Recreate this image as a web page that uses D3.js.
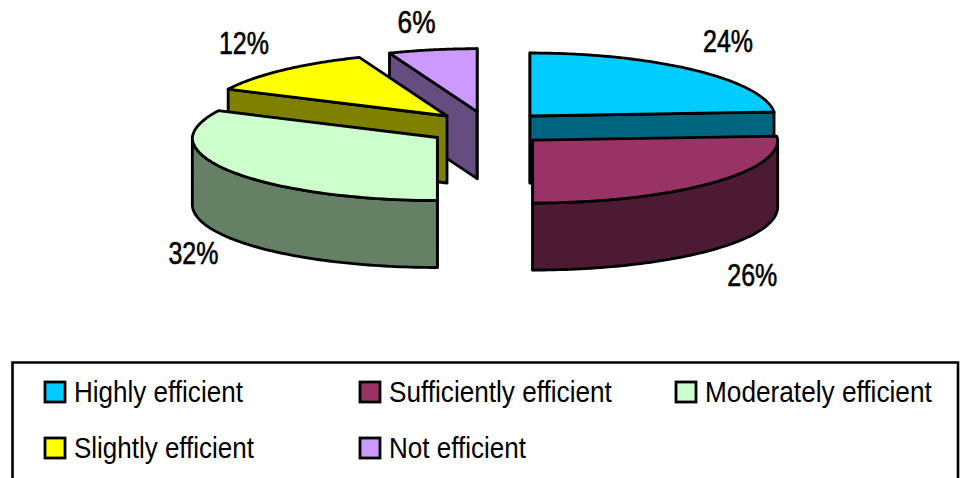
<!DOCTYPE html>
<html>
<head>
<meta charset="utf-8">
<style>
  html, body { margin: 0; padding: 0; background: #fff; }
  svg { display: block; }
  text { fill: #000; font-family: "Liberation Sans", Arial, sans-serif; }
</style>
<script src="https://cdn.jsdelivr.net/npm/d3@7/dist/d3.min.js"></script>
</head>
<body>
<svg id="chart" width="960" height="478"></svg>
<script>
// Survey shares, in percent, clockwise from twelve o'clock.
const categories = ["Highly efficient", "Sufficiently efficient", "Moderately efficient", "Slightly efficient", "Not efficient"];
const shares = [24, 26, 32, 12, 6];
const topColors = ["#00CCFF", "#993366", "#CCFFCC", "#FFFF00", "#CC99FF"];

// Projection of the tilted, exploded pie; the far half recedes slightly.
const centre = { x: 488.5, y: 128.4 };
const radius = { x: 245, y: 63 };
const explode = { x: 60.6, y: 17 };
const depth = 67;
const recede = 0.03;

const svg = d3.select("#chart");
const applyOutline = sel => sel.attr("stroke", "#000").attr("stroke-width", 2.8).attr("stroke-linejoin", "round");

const slices = d3.pie().sort(null).value(d => d)(shares).map((s, i) => {
  const mid = (s.startAngle + s.endAngle) / 2;
  return {
    start: s.startAngle, end: s.endAngle, mid, i,
    share: s.value,
    apex: { x: centre.x + explode.x * Math.sin(mid), y: centre.y - explode.y * Math.cos(mid) }
  };
});

const rim = (s, a, drop = 0) => [
  s.apex.x + radius.x * (1 - recede * Math.max(Math.cos(a), 0)) * Math.sin(a),
  s.apex.y - radius.y * Math.cos(a) + drop
];
const arcAngles = (a, b) => d3.range(0, 73).map(t => a + (b - a) * t / 72);
const poly = d3.line();

// Squeeze a text horizontally to the given width, anchored at x.
function fitWidth(sel, x, width, anchor) {
  sel.each(function (d, i) {
    const node = d3.select(this);
    const sx = width(d, i) / this.getComputedTextLength();
    const left = x(d, i) - (anchor === "middle" ? width(d, i) / 2 : 0);
    node.attr("x", left / sx).attr("transform", `scale(${sx},1)`);
  });
}

// Paint the slices from the back of the pie to the front.
const drawOrder = slices.slice().sort((a, b) => Math.cos(b.mid) - Math.cos(a.mid));
const eps = 1e-6;

drawOrder.forEach(s => {
  const g = svg.append("g").attr("class", "slice");
  const wall = d3.color(topColors[s.i]);
  const side = d3.rgb(wall.r / 2, wall.g / 2, wall.b / 2).formatHex();
  const apex = [s.apex.x, s.apex.y];
  const apexLow = [s.apex.x, s.apex.y + depth];

  const radial = a => g.append("path")
    .attr("d", poly([apex, rim(s, a), rim(s, a, depth), apexLow]) + "Z")
    .attr("fill", side).call(applyOutline);
  if (Math.sin(s.start) <= eps) radial(s.start);
  if (Math.sin(s.end) >= -eps) radial(s.end);

  // Outer curved wall, only on the part of the rim that faces the viewer.
  const lo = Math.max(s.start, Math.PI / 2);
  const hi = Math.min(s.end, 3 * Math.PI / 2);
  if (hi > lo) {
    const angles = arcAngles(lo, hi);
    const pts = angles.map(a => rim(s, a)).concat(angles.slice().reverse().map(a => rim(s, a, depth)));
    g.append("path").attr("d", poly(pts) + "Z").attr("fill", side).call(applyOutline);
  }

  const top = [apex].concat(arcAngles(s.start, s.end).map(a => rim(s, a)));
  g.append("path").attr("d", poly(top) + "Z").attr("fill", topColors[s.i]).call(applyOutline);
});

// Percentage labels sit beyond each slice's rim.
const labelOffset = [[34, -18], [41, 103], [-37, 93], [-39, -16], [-16, -17]];
svg.append("g").selectAll("text").data(slices).join("text")
  .attr("y", d => rim(d, d.mid)[1] + labelOffset[d.i][1])
  .attr("font-size", 31)
  .attr("stroke", "#000").attr("stroke-width", 0.6)
  .text(d => d.share + "%")
  .call(fitWidth, d => rim(d, d.mid)[0] + labelOffset[d.i][0], d => d.share < 10 ? 38 : 50, "middle");

// Legend frame runs off the bottom edge.
svg.append("path").attr("d", "M12.5,478V362.5H958V478").attr("fill", "none").attr("stroke", "#000").attr("stroke-width", 2.6);

const legendWidths = [169, 223, 227, 180, 137];
const legendCol = d3.scaleOrdinal().domain([0, 1, 2]).range([44, 359, 675]);
const legendRow = d3.scaleOrdinal().domain([0, 1]).range([381, 437]);
const legend = svg.append("g").selectAll("g").data(categories).join("g")
  .attr("transform", (d, i) => `translate(${legendCol(i % 3)},${legendRow(Math.floor(i / 3))})`);
legend.append("rect").attr("x", 1).attr("y", 1).attr("width", 20).attr("height", 20)
  .attr("fill", (d, i) => topColors[i]).attr("stroke", "#000").attr("stroke-width", 2.8);
legend.append("text").attr("y", 21).attr("font-size", 30)
  .text(d => d)
  .call(fitWidth, () => 30, (d, i) => legendWidths[i], "start");
</script>
</body>
</html>
